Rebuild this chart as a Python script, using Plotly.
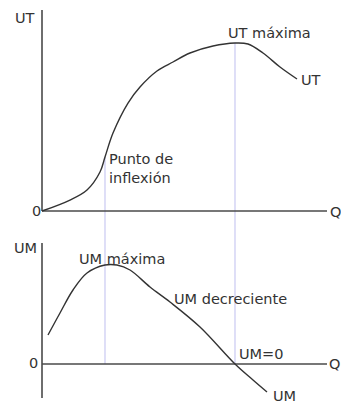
import numpy as np
import plotly.graph_objects as go

# Total utility (UT) curve: quantity Q vs utility
q_ut = [0.0, 2.8, 4.5, 5.8, 6.3, 7.1, 8.6, 9.8, 11.5, 13.1, 14.8, 17.1, 19.3, 20.6, 22.1, 23.8, 25.5]
ut = [0.0, 1.1, 2.1, 3.9, 5.4, 7.8, 10.8, 12.4, 14.0, 14.9, 15.8, 16.5, 16.8, 16.7, 15.8, 14.4, 13.2]

# Marginal utility (UM) curve
q_um = [0.6, 1.8, 3.1, 4.5, 6.3, 7.5, 8.8, 10.8, 12.8, 15.8, 19.3, 21.1, 22.5]
um = [2.9, 5.1, 7.4, 9.1, 9.9, 9.9, 9.4, 7.7, 6.2, 3.7, 0.0, -1.6, -2.8]

# Key quantities: inflection point (= UM max) and UT max (= UM zero)
q_inflexion = 6.3
q_ut_max = 19.3

# Axis extents
X_RANGE = [-4.2, 29.9]
Y1_RANGE = [-1.7, 21.1]
Y2_RANGE = [-4.0, 13.6]
SPLIT = 0.4356

INK = "#333333"
AXIS = "#4a4a4a"
GUIDE = "#c9c9f2"
FONT = dict(family="DejaVu Sans, Verdana, sans-serif", size=14.5, color=INK)

fig = go.Figure()


def line(x, y, xa, ya, color, width, shape="linear"):
    fig.add_trace(go.Scatter(
        x=x, y=y, xaxis=xa, yaxis=ya, mode="lines",
        line=dict(color=color, width=width, shape=shape, smoothing=1.0),
        hoverinfo="skip", showlegend=False,
    ))


# Guide lines joining both panels
ut_at_infl = float(np.interp(q_inflexion, q_ut, ut))
ut_at_max = float(np.interp(q_ut_max, q_ut, ut))
line([q_inflexion, q_inflexion], [ut_at_infl, Y1_RANGE[0]], "x", "y", GUIDE, 1.2)
line([q_ut_max, q_ut_max], [ut_at_max, Y1_RANGE[0]], "x", "y", GUIDE, 1.2)
line([q_inflexion, q_inflexion], [Y2_RANGE[1], 0], "x2", "y2", GUIDE, 1.2)
line([q_ut_max, q_ut_max], [Y2_RANGE[1], 0], "x2", "y2", GUIDE, 1.2)

# Drawn axes
line([0, 0], [0, 20.1], "x", "y", AXIS, 1.6)
line([0, 28.5], [0, 0], "x", "y", AXIS, 1.6)
line([0, 0], [-3.4, 12.1], "x2", "y2", AXIS, 1.6)
line([0, 28.5], [0, 0], "x2", "y2", AXIS, 1.6)

# Curves
line(q_ut, ut, "x", "y", INK, 1.4, "spline")
line(q_um, um, "x2", "y2", INK, 1.4, "spline")

labels = [
    ("UT", -1.7, 19.35, "x", "y", "center"),
    ("UT máxima", 22.7, 17.85, "x", "y", "center"),
    ("UT", 26.9, 13.1, "x", "y", "center"),
    ("Punto de<br>inflexión", 6.6, 4.3, "x", "y", "left"),
    ("0", -0.6, 0.0, "x", "y", "center"),
    ("Q", 28.7, -0.1, "x", "y", "left"),
    ("UM", -1.7, 11.6, "x2", "y2", "center"),
    ("UM máxima", 8.0, 10.55, "x2", "y2", "center"),
    ("UM decreciente", 18.8, 6.55, "x2", "y2", "center"),
    ("UM=0", 21.95, 1.05, "x2", "y2", "center"),
    ("UM", 24.25, -3.2, "x2", "y2", "center"),
    ("0", -0.85, 0.1, "x2", "y2", "center"),
    ("Q", 28.6, 0.0, "x2", "y2", "left"),
]
for text, x, y, xr, yr, anchor in labels:
    fig.add_annotation(
        text=text, x=x, y=y, xref=xr, yref=yr, showarrow=False,
        xanchor=anchor, yanchor="middle", align="left", font=FONT,
        borderpad=0,
    )

hidden = dict(visible=False, showgrid=False, zeroline=False, fixedrange=True)
fig.update_layout(
    width=341, height=404,
    margin=dict(l=0, r=0, t=0, b=0),
    paper_bgcolor="white", plot_bgcolor="white",
    xaxis=dict(range=X_RANGE, domain=[0, 1], anchor="y", **hidden),
    yaxis=dict(range=Y1_RANGE, domain=[SPLIT, 1], anchor="x", **hidden),
    xaxis2=dict(range=X_RANGE, domain=[0, 1], anchor="y2", **hidden),
    yaxis2=dict(range=Y2_RANGE, domain=[0, SPLIT], anchor="x2", **hidden),
    showlegend=False,
)

fig.write_html("out.html", config={"displayModeBar": False})
